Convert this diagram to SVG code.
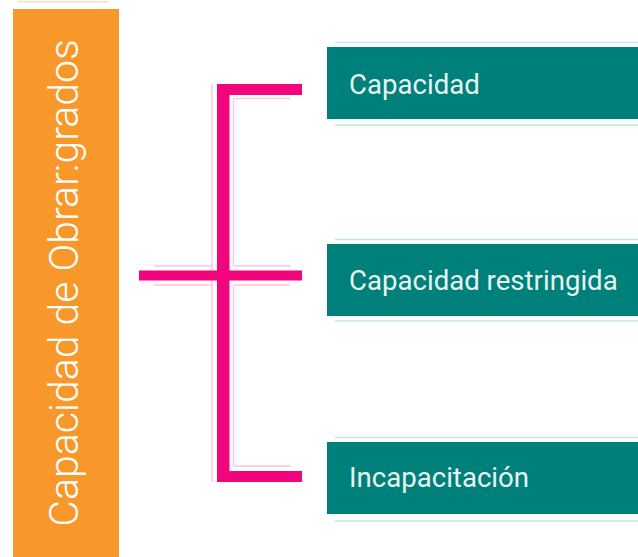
<svg xmlns="http://www.w3.org/2000/svg" width="638" height="557" viewBox="0 0 638 557">
  <style>
    .bar { fill: #F8982A; }
    .box { fill: #00807A; }
    .rule-teal { stroke: #C4E6E3; stroke-width: 1.5; fill: none; }
    .rule-pink { stroke: #FFC4DE; stroke-width: 1.5; fill: none; }
    .rule-orange { stroke: #FCDDBC; stroke-width: 1.5; fill: none; }
    .brace { fill: #F2047C; }
    .label { font-family: Roboto, "Liberation Sans", sans-serif; font-size: 27.6px; fill: #E8F4F2; }
    .title { font-family: Roboto, "Liberation Sans", sans-serif; font-weight: 300; font-size: 41px; fill: #FFFFFF; }
  </style>

  <rect width="638" height="557" fill="#FFFFFF"/>

  <!-- vertical title bar -->
  <g id="title">
    <line class="rule-orange" x1="18" y1="1.8" x2="108" y2="1.8"/>
    <rect class="bar" x="13" y="9" width="106" height="548"/>
    <text class="title" transform="translate(77.5,283) rotate(-90)" text-anchor="middle">Capacidad de Obrar:grados</text>
  </g>

  <!-- bracket connecting the title to the three categories -->
  <g id="connectors">
    <!-- soft outline strokes -->
    <path class="rule-pink" d="M212 84 V482"/>
    <path class="rule-pink" d="M233.5 98.5 H290 M233.5 98.5 V266"/>
    <path class="rule-pink" d="M154 266 H212 M233.5 266 H290"/>
    <path class="rule-pink" d="M154 285 H212 M233.5 285 H290"/>
    <path class="rule-pink" d="M233.5 285 V466 H290"/>
    <!-- solid bracket -->
    <rect class="brace" x="217" y="84" width="12.5" height="398"/>
    <rect class="brace" x="217" y="84" width="85" height="11"/>
    <rect class="brace" x="139" y="270.5" width="163" height="10"/>
    <rect class="brace" x="217" y="471" width="85" height="11"/>
  </g>

  <g id="node-capacidad">
    <line class="rule-teal" x1="335" y1="42.5" x2="638" y2="42.5"/>
    <rect class="box" x="327" y="47" width="311" height="72"/>
    <line class="rule-teal" x1="335" y1="125" x2="638" y2="125"/>
    <text class="label" x="349" y="94">Capacidad</text>
  </g>

  <g id="node-restringida">
    <line class="rule-teal" x1="335" y1="239.5" x2="638" y2="239.5"/>
    <rect class="box" x="327" y="244" width="311" height="72"/>
    <line class="rule-teal" x1="335" y1="321" x2="638" y2="321"/>
    <text class="label" x="349" y="290">Capacidad restringida</text>
  </g>

  <g id="node-incapacitacion">
    <line class="rule-teal" x1="335" y1="437.5" x2="638" y2="437.5"/>
    <rect class="box" x="327" y="442" width="311" height="72"/>
    <line class="rule-teal" x1="335" y1="521" x2="638" y2="521"/>
    <text class="label" x="349" y="487">Incapacitación</text>
  </g>
</svg>
